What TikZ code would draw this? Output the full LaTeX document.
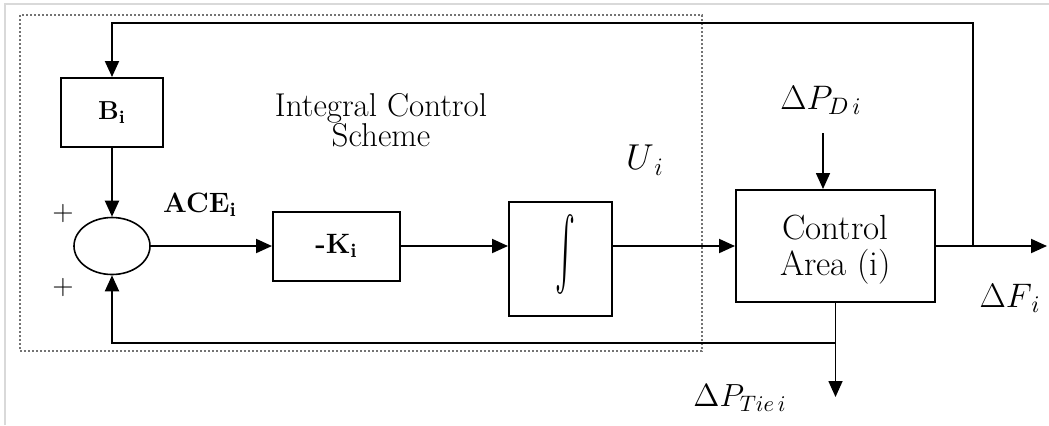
\RequirePackage{fix-cm}
\documentclass[tikz,border=0pt]{standalone}
\usetikzlibrary{arrows.meta,shapes.geometric}
\begin{document}
\begin{tikzpicture}[x=0.5pt,y=-0.5pt,
  blk/.style={draw,line width=1pt,rectangle,inner sep=0pt},
  sig/.style={line width=1pt},
  arr/.style={sig,-{Triangle[length=8pt,width=7pt]}},
  thin arr/.style={line width=0.8pt,-{Triangle[length=8pt,width=7pt]}},
  lbl/.style={inner sep=0pt}]
\useasboundingbox (0,0) rectangle (1049,425);
% image frame
\draw[black!15,line width=0.6pt] (5,425) -- (5,4) -- (1049,4);
% dotted box
\draw[black!55,line width=1pt,densely dotted] (20,15) rectangle (702,351);
% blocks
\node[blk,minimum width=51pt,minimum height=34.5pt,font=\fontsize{13}{15}\selectfont\bfseries] (B) at (112,112.5) {B\textsubscript{i}};
\node[draw,line width=0.8pt,ellipse,minimum width=38pt,minimum height=28.5pt,inner sep=0pt] (sum) at (112,246) {};
\node[blk,minimum width=63.5pt,minimum height=34.5pt,font=\fontsize{14}{16}\selectfont\bfseries] (K) at (336.5,246) {-K\textsubscript{i}};
\node[blk,minimum width=51.5pt,minimum height=57pt] (int) at (560.5,259) {};
\node[lbl] (intsym) at (565,254) {\resizebox{10pt}{29pt}{$\int$}};
\node[blk,minimum width=99.5pt,minimum height=56pt] (CA) at (835.5,246) {};
\node[lbl,align=center,font=\fontsize{17.5}{18}\selectfont] (CAtxt) at (835.5,250) {Control\\Area (i)};
% labels
\node[lbl,font=\fontsize{14}{16}\selectfont] (p1) at (63,213) {$+$};
\node[lbl,font=\fontsize{14}{16}\selectfont] (p2) at (63,287) {$+$};
\node[lbl,font=\fontsize{14}{16}\selectfont\bfseries] (ace) at (200,205) {ACE\textsubscript{i}};
\node[lbl,align=center,font=\fontsize{16.5}{15}\selectfont] (ics) at (381,120) {Integral Control\\Scheme};
\node[lbl,font=\fontsize{18}{20}\selectfont] (U) at (645,160) {$U_{\,i}$};
\node[lbl,font=\fontsize{17}{19}\selectfont] (PD) at (821,100) {$\Delta P_{D\,i}$};
\node[lbl,font=\fontsize{17}{19}\selectfont] (F) at (1010,298) {$\Delta F_{\,i}$};
\node[lbl,font=\fontsize{16}{18}\selectfont] (PT) at (740,398) {$\Delta P_{Tie\,i}$};
% coordinates
\coordinate (j1) at (973,246);
\coordinate (tl) at (112,23);
\coordinate (out) at (1047,246);
\coordinate (pd) at (823,133);
\coordinate (j2) at (835.5,343);
\coordinate (tie) at (835.5,397);
% connectors
\draw[arr] (j1) |- (tl) -- (B.north);
\draw[arr] (B.south) -- (sum.north);
\draw[arr] (sum.east) -- (K.west);
\draw[arr] (K.east) -- (K.east -| int.west);
\draw[arr] (int.east |- CA.west) -- (CA.west);
\draw[arr] (CA.east) -- (out);
\draw[thin arr] (pd) -- (pd |- CA.north);
\draw[thin arr] (CA.south) -- (tie);
\draw[arr] (j2) -| (sum.south);
\end{tikzpicture}
\end{document}
